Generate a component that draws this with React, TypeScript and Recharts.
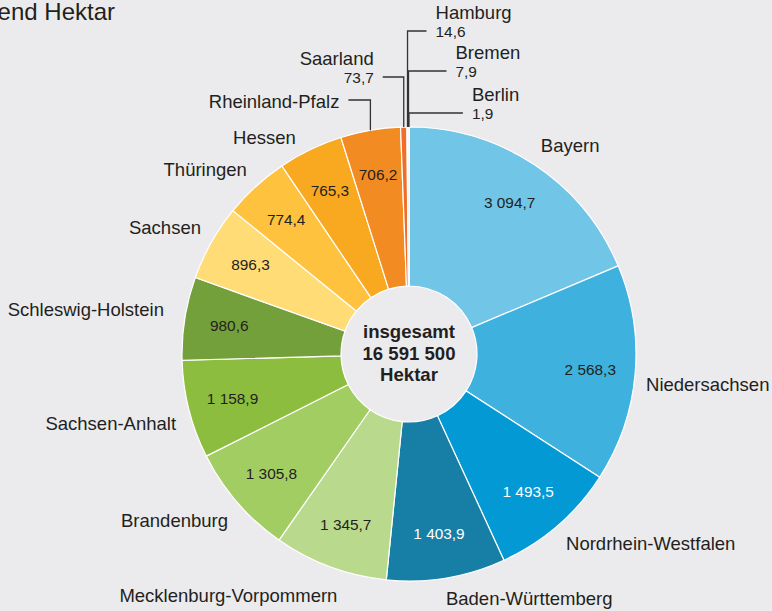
import React from 'react';
import { PieChart, Pie, Cell } from 'recharts';

const STATES = [
  'Bayern', 'Niedersachsen', 'Nordrhein-Westfalen', 'Baden-Württemberg',
  'Mecklenburg-Vorpommern', 'Brandenburg', 'Sachsen-Anhalt', 'Schleswig-Holstein',
  'Sachsen', 'Thüringen', 'Hessen', 'Rheinland-Pfalz', 'Saarland', 'Hamburg', 'Bremen', 'Berlin',
];
const VALUES = [3094.7, 2568.3, 1493.5, 1403.9, 1345.7, 1305.8, 1158.9, 980.6, 896.3, 774.4, 765.3, 706.2, 73.7, 14.6, 7.9, 1.9];
const COLORS = [
  '#71c5e6', '#3eb1de', '#0399d5', '#177ea5',
  '#b9da8c', '#a2cd62', '#8dbd3e', '#73a03b',
  '#ffdc76', '#fec23e', '#f8a91f', '#f28c22',
  '#ee6e2a', '#e9531f', '#de3f1d', '#cf321b',
];
const WHITE_VALUE = [2, 3];
const TOTAL_TEXT = ['insgesamt', '16 591 500', 'Hektar'];
const TITLE = 'Tausend Hektar';

// label layout (offsets, not data)
const NAME_NUDGE: [number, number][] = [
  [-7.5, 1], [-14, 8], [-8, -1], [-4.6, -4], [16, 5], [9.5, 2], [11.4, 8], [3.8, -5], [11.5, -3], [8, 1], [-3.7, 10],
];
const LEADERS: Record<number, { elbow: number; run: number; withValue: boolean }> = {
  11: { elbow: 254, run: -22, withValue: false },
  12: { elbow: 277, run: -21, withValue: true },
  13: { elbow: 323, run: 19, withValue: true },
  14: { elbow: 283, run: 38, withValue: true },
  15: { elbow: 241, run: 54, withValue: true },
};

const FONT = '"Liberation Sans", Arial, sans-serif';
const TEXT_COLOR = '#231f20';
const NAME_SIZE = 18.5;
const VALUE_SIZE = 15.4;
const CENTER_SIZE = 18.6;

const fmt = (v: number) => {
  const [i, d] = v.toFixed(1).split('.');
  return i.replace(/\B(?=(\d{3})+(?!\d))/g, ' ') + ',' + d;
};

const data = STATES.map((name, i) => ({ name, value: VALUES[i] }));

const RAD = Math.PI / 180;
const polar = (cx: number, cy: number, r: number, angle: number) => ({
  x: cx + r * Math.cos(-angle * RAD),
  y: cy + r * Math.sin(-angle * RAD),
});

const renderLabel = (props: any) => {
  const { cx, cy, midAngle, outerRadius, index } = props;
  const els: React.ReactNode[] = [];
  const name = STATES[index];
  const value = VALUES[index];

  if (index === 0) {
    TOTAL_TEXT.forEach((t, k) => {
      els.push(
        <text key={'c' + k} x={cx} y={cy + (k - 1) * 21.5 - 1} textAnchor="middle" dominantBaseline="central"
          fontFamily={FONT} fontWeight="bold" fontSize={CENTER_SIZE} fill={TEXT_COLOR}>{t}</text>
      );
    });
  }

  if (index <= 11) {
    const p = polar(cx, cy, 182, midAngle);
    els.push(
      <text key="v" x={p.x} y={p.y} textAnchor="middle" dominantBaseline="central" fontFamily={FONT}
        fontSize={VALUE_SIZE} fill={WHITE_VALUE.includes(index) ? '#ffffff' : TEXT_COLOR}>{fmt(value)}</text>
    );
  }

  const leader = LEADERS[index];
  if (leader) {
    const p0 = polar(cx, cy, outerRadius, midAngle);
    const ey = cy - leader.elbow;
    const ex = p0.x + leader.run;
    const dir = leader.run < 0 ? -1 : 1;
    const anchor = dir < 0 ? 'end' : 'start';
    const tx = ex + dir * 9;
    els.push(
      <polyline key="l" points={`${p0.x},${p0.y} ${p0.x},${ey} ${ex},${ey}`} fill="none" stroke="#333333" strokeWidth={1.3} />
    );
    if (leader.withValue) {
      els.push(
        <text key="n" x={tx} y={ey - 19} textAnchor={anchor} dominantBaseline="central" fontFamily={FONT}
          fontSize={NAME_SIZE} fill={TEXT_COLOR}>{name}</text>,
        <text key="nv" x={tx} y={ey} textAnchor={anchor} dominantBaseline="central" fontFamily={FONT}
          fontSize={VALUE_SIZE} fill={TEXT_COLOR}>{fmt(value)}</text>
      );
    } else {
      els.push(
        <text key="n" x={tx} y={ey + 1} textAnchor={anchor} dominantBaseline="central" fontFamily={FONT}
          fontSize={NAME_SIZE} fill={TEXT_COLOR}>{name}</text>
      );
    }
  } else {
    const p = polar(cx, cy, outerRadius + 25, midAngle);
    const right = Math.cos(-midAngle * RAD) > 0;
    const [dx, dy] = NAME_NUDGE[index] || [0, 0];
    els.push(
      <text key="n" x={p.x + dx} y={p.y + dy} textAnchor={right ? 'start' : 'end'} dominantBaseline="central"
        fontFamily={FONT} fontSize={NAME_SIZE} fill={TEXT_COLOR}>{name}</text>
    );
  }
  return <g>{els}</g>;
};

export default function App() {
  return (
    <div style={{ position: 'absolute', left: 0, top: 0, width: 772, height: 611, background: '#ebebed', overflow: 'hidden' }}>
      <PieChart width={772} height={611} margin={{ top: 0, right: 0, bottom: 0, left: 0 }}>
        <Pie
          data={data}
          dataKey="value"
          nameKey="name"
          cx={409}
          cy={354}
          innerRadius={68}
          outerRadius={227}
          startAngle={90}
          endAngle={-270}
          stroke="#ffffff"
          strokeWidth={1.2}
          label={renderLabel}
          labelLine={false}
          isAnimationActive={false}
        >
          {data.map((d, i) => (
            <Cell key={d.name} fill={COLORS[i]} />
          ))}
        </Pie>
      </PieChart>
      <svg width={772} height={30} style={{ position: 'absolute', left: 0, top: 0 }}>
        <text x={115} y={20} textAnchor="end" fontFamily={FONT} fontSize={24} fill={TEXT_COLOR}>{TITLE}</text>
      </svg>
    </div>
  );
}
